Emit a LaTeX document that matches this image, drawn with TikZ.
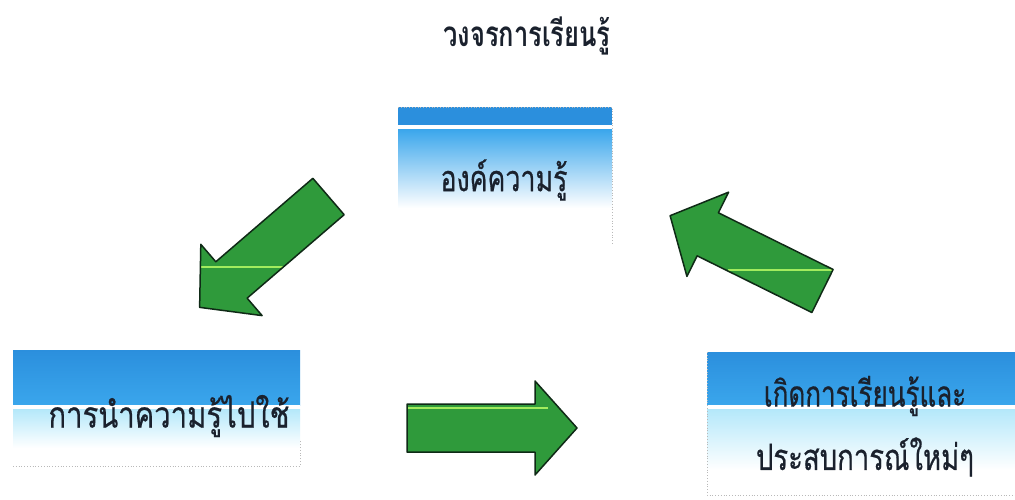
\documentclass[tikz,border=0pt]{standalone}
\usepackage{fontspec}
\newfontfamily\thaifont[Script=Thai]{Loma}
\newfontfamily\thaifontm[Script=Thai,FakeBold=0.6]{Loma}
\definecolor{arrowgreen}{HTML}{2F9A3B}
\definecolor{arrowedge}{HTML}{0F2A16}
\definecolor{bandblue}{HTML}{2B8FDD}
\definecolor{midblue}{HTML}{3AA6EC}
\definecolor{paleblue}{HTML}{B4E8FA}
\definecolor{shine}{HTML}{A2EC5E}
\definecolor{txt}{HTML}{1A212D}
\tikzset{
  blockarrow/.style={fill=arrowgreen, draw=arrowedge, line width=1.5pt, line join=round},
  shineline/.style={draw=shine, line width=1.6pt},
  boxedge/.style={draw=gray!55, dotted, line width=0.8pt},
  boxtext/.style={font=\thaifontm\fontsize{25}{30}\selectfont, text=txt, inner sep=0pt},
  boxnode/.style={draw=none, inner sep=0pt},
}
\begin{document}
\begin{tikzpicture}[x=1pt,y=-1pt]
\useasboundingbox (0,0) rectangle (1015,499);
\fill[white] (0,0) rectangle (1015,499);

% title
\node[font=\thaifont\bfseries\fontsize{25}{30}\selectfont, text=txt, inner sep=0pt] (title) at (527,36) {\scalebox{1.02}[1.4]{วงจรการเรียนรู้}};

% ---------- top box ----------
\node[boxnode, minimum width=214pt, minimum height=138pt] (knowledge) at (505,176) {};
\fill[bandblue] (398,107) rectangle (612,125);
\shade[top color=midblue, bottom color=white] (398,129) rectangle (612,208);
\fill[white] (398,125) rectangle (612,126.2);
\fill[white] (398,127.5) rectangle (612,128.7);
\draw[boxedge] (398,107) -- (612,107) -- (612,245);
\node[boxtext] (ktext) at (504,180) {\scalebox{1.07}[1.45]{องค์ความรู้}};

% ---------- left box ----------
\node[boxnode, minimum width=287pt, minimum height=116pt] (apply) at (156.5,408) {};
\shade[top color=bandblue, bottom color=midblue] (13,350) rectangle (300,405);
\shade[top color=paleblue, bottom color=white] (13,409) rectangle (300,448);
\fill[white] (13,405) rectangle (300,408.5);
\draw[boxedge] (13,466) -- (300,466) -- (300,440);
\node[boxtext] (atext) at (169,416) {\scalebox{1.17}[1.45]{การนำความรู้ไปใช้}};

% ---------- right box ----------
\node[boxnode, minimum width=308pt, minimum height=143pt] (learn) at (861,423.5) {};
\shade[top color=bandblue, bottom color=midblue] (707,352) rectangle (1015,405);
\shade[top color=paleblue, bottom color=white] (707,409) rectangle (1015,470);
\fill[white] (707,405) rectangle (1015,408.5);
\draw[boxedge] (707,352) -- (707,495) -- (1015,495);
\node[boxtext] (ltext1) at (865,396) {\scalebox{1.04}[1.45]{เกิดการเรียนรู้และ}};
\node[boxtext] (ltext2) at (865,457) {\scalebox{1.1}[1.45]{ประสบการณ์ใหม่ๆ}};

% ---------- arrows ----------
% arrow 1: from top box down-left to left box
\coordinate (a1) at (328.5,196.5);
\begin{scope}
  \path[clip, shift={(a1)}, rotate=220.7] (0,-24) -- (128,-24) -- (128,-47) -- (170,0) -- (128,47) -- (128,24) -- (0,24) -- cycle;
  \fill[arrowgreen] (150,150) rectangle (400,350);
  \draw[shineline] (190,267) -- (285,267);
\end{scope}
\draw[blockarrow, fill=none, shift={(a1)}, rotate=220.7] (0,-24) -- (128,-24) -- (128,-47) -- (170,0) -- (128,47) -- (128,24) -- (0,24) -- cycle;

% arrow 2: from right box up-left to top box
\coordinate (a2) at (822.5,291);
\begin{scope}
  \path[clip, shift={(a2)}, rotate=153.7] (0,-24) -- (128,-24) -- (128,-47) -- (170,0) -- (128,47) -- (128,24) -- (0,24) -- cycle;
  \fill[arrowgreen] (640,170) rectangle (860,330);
  \draw[shineline] (728,270) -- (834,270);
\end{scope}
\draw[blockarrow, fill=none, shift={(a2)}, rotate=153.7] (0,-24) -- (128,-24) -- (128,-47) -- (170,0) -- (128,47) -- (128,24) -- (0,24) -- cycle;

% arrow 3: from left box right to right box
\coordinate (a3) at (407,428);
\begin{scope}
  \path[clip, shift={(a3)}] (0,-24) -- (128,-24) -- (128,-47) -- (170,0) -- (128,47) -- (128,24) -- (0,24) -- cycle;
  \fill[arrowgreen] (400,370) rectangle (590,480);
  \draw[shineline, line width=2.4pt] (405,408) -- (548,408);
\end{scope}
\draw[blockarrow, fill=none, shift={(a3)}] (0,-24) -- (128,-24) -- (128,-47) -- (170,0) -- (128,47) -- (128,24) -- (0,24) -- cycle;
\end{tikzpicture}
\end{document}
